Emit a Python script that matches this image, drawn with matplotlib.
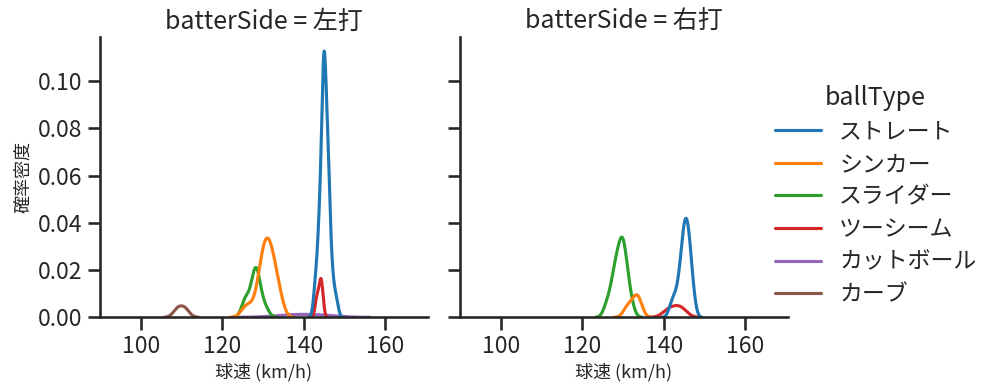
import matplotlib
matplotlib.use("Agg")
import matplotlib.pyplot as plt
import pandas as pd
import seaborn as sns

# ---- data (pitch speeds, km/h) ----
sides = ["左打", "右打"]
ball_types = ["ストレート", "シンカー", "スライダー", "ツーシーム", "カットボール", "カーブ"]

# batterSide = 左打
left_straight = [143, 143, 144, 144, 144, 144, 144,
                 145, 145, 145, 145, 145, 145, 145, 145, 145, 145, 145, 145, 145, 145,
                 146, 146, 146, 146, 146, 146, 146, 146, 147, 147, 148]
left_sinker = [125.5, 127, 129, 129, 130, 130, 130, 130, 131, 131, 131, 131,
               132, 132, 132, 132, 133, 133, 134, 134]
left_slider = [125.5, 126, 127.5, 128, 128, 128.5, 128.5, 129, 130.5]
left_twoseam = [143.3, 144.2, 144.4]
left_cutter = [136.5, 143.5]
left_curve = [109, 110.8]

# batterSide = 右打
right_straight = [142, 143, 144, 144, 145, 145, 145, 145, 145,
                  146, 146, 146, 146, 146, 147, 147]
right_sinker = [131, 132.5, 133.5, 134]
right_slider = [126, 127, 128, 128, 128, 129, 129, 129, 130, 130, 130, 130, 130,
                131, 131, 132]
right_twoseam = [141, 143, 144.6]

x_ticks = [100, 120, 140, 160]
y_ticks = [0.00, 0.02, 0.04, 0.06, 0.08, 0.10]

groups = [
    ("左打", "ストレート", left_straight),
    ("左打", "シンカー", left_sinker),
    ("左打", "スライダー", left_slider),
    ("左打", "ツーシーム", left_twoseam),
    ("左打", "カットボール", left_cutter),
    ("左打", "カーブ", left_curve),
    ("右打", "ストレート", right_straight),
    ("右打", "シンカー", right_sinker),
    ("右打", "スライダー", right_slider),
    ("右打", "ツーシーム", right_twoseam),
]
rows = []
for side, bt, vals in groups:
    for v in vals:
        rows.append({"batterSide": side, "ballType": bt, "speed": v})
df = pd.DataFrame(rows)

sns.set_theme(context="talk", style="ticks")
plt.rcParams["font.family"] = ["Noto Sans CJK JP", "DejaVu Sans"]

g = sns.displot(data=df, x="speed", hue="ballType", col="batterSide", kind="kde",
                hue_order=ball_types, col_order=sides, palette="tab10",
                height=4, aspect=1)
g.set_titles("{col_var} = {col_name}")
g.set_axis_labels("球速 (km/h)", "確率密度")
for ax in g.axes.flat:
    ax.xaxis.label.set_fontsize(13)
    ax.yaxis.label.set_fontsize(13)
    ax.set_xlim(89.9, 170.6)
    ax.set_ylim(0, 0.1188)
    ax.set_xticks(x_ticks)
    ax.set_yticks(y_ticks)

fig = g.figure
fig.set_size_inches(9.97, 3.91)
fig.subplots_adjust(left=0.1003, right=0.7904, bottom=0.1885, top=0.906, wspace=0.0976)
sns.move_legend(g, "center right", bbox_to_anchor=(1, 0.5), frameon=False,
                labelspacing=0.42)
fig.savefig("out.png", dpi=100)
